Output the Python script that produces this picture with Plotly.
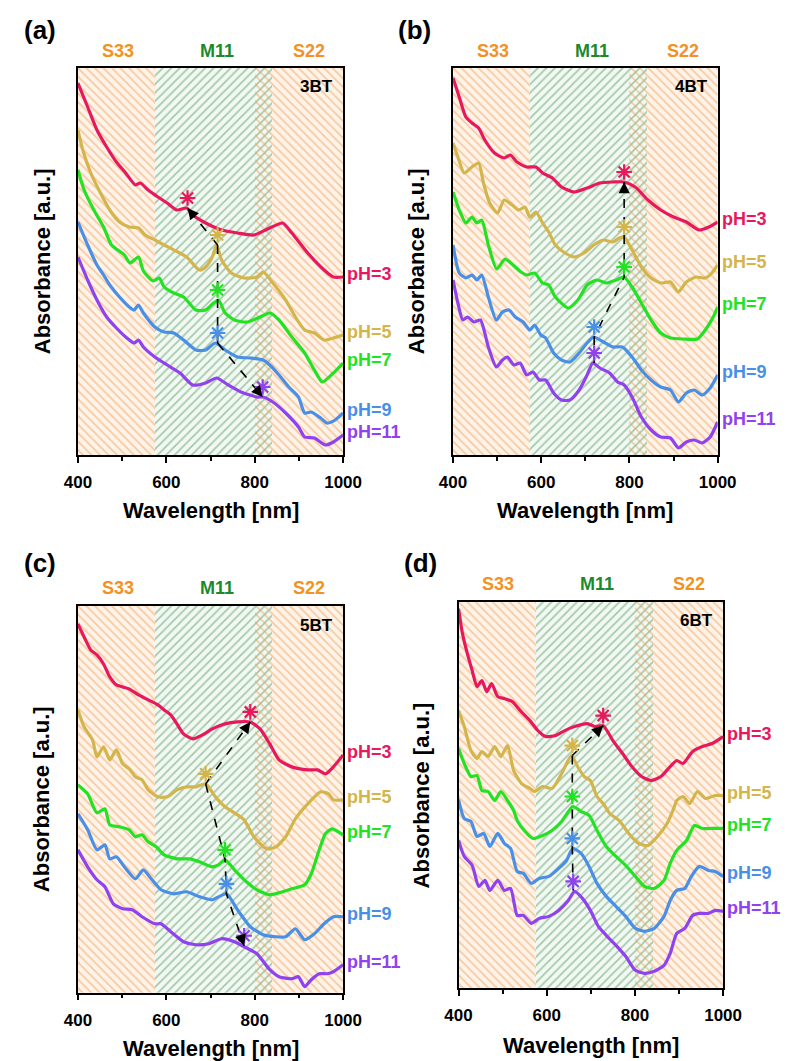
import plotly.graph_objects as go

# ---------------- data ----------------
PH_LEVELS = [3, 5, 7, 9, 11]
PH_LABELS = ["pH=3", "pH=5", "pH=7", "pH=9", "pH=11"]
SAMPLES = ["3BT", "4BT", "5BT", "6BT"]
PANEL_TAGS = ["(a)", "(b)", "(c)", "(d)"]

REGION_NAMES = ["S33", "M11", "S22"]
REGION_START = [400, 575, 800]
REGION_END = [575, 840, 1000]

X_TICKS = [400, 600, 800, 1000]

# ---- panel (a) 3BT ----
A3_WL = [400,422,443,465,487,508,530,541,559,581,602,624,646,660,689,725,761,798,834,863,884,920,957,978,1000]
A3_AB = [372,348,325,308,293,282,270,272,265,258,252,245,247,240,232,225,222,220,227,232,222,202,185,178,178]
A5_WL = [400,411,429,451,472,494,516,537,552,574,595,617,646,675,689,704,714,725,747,776,805,819,841,870,892,913,935,957,978,1000]
A5_AB = [325,305,282,262,245,233,228,227,220,215,210,205,198,185,188,198,210,195,182,177,178,183,172,155,138,125,122,115,117,120]
A7_WL = [400,414,436,458,476,505,518,537,548,570,584,595,617,639,667,689,707,718,733,754,783,812,834,855,884,913,935,953,978,1000]
A7_AB = [285,265,245,228,210,200,192,198,184,174,177,168,162,158,145,145,152,155,142,135,133,138,142,135,118,102,85,73,82,92]
A9_WL = [400,422,443,458,472,494,516,527,537,548,574,595,617,639,667,689,711,733,761,790,819,834,855,877,899,913,928,949,964,982,1000]
A9_AB = [233,210,190,180,170,158,148,145,150,142,128,123,122,115,105,105,112,105,98,97,95,90,80,68,58,42,43,37,32,35,42]
A11_WL = [400,422,443,465,487,508,527,537,548,574,602,631,660,689,714,740,769,805,819,841,870,899,913,935,960,978,1000]
A11_AB = [198,175,155,138,127,118,112,115,108,98,90,82,70,72,77,70,63,58,58,53,42,28,18,17,10,13,20]
A_PEAK_WL = [648, 716, 716, 716, 818]
A_PEAK_AB = [247, 210, 155, 112, 58]

# ---- panel (b) 4BT ----
B3_WL = [400,414,429,443,458,472,494,516,530,545,567,588,603,625,646,675,704,733,762,788,813,842,871,900,929,958,980,1000]
B3_AB = [377,358,338,332,327,315,302,297,300,293,288,288,282,277,268,263,267,272,273,273,268,255,245,238,233,225,228,233]
B5_WL = [400,411,425,443,458,469,483,501,516,534,549,563,574,588,603,617,632,654,675,697,719,741,762,777,788,806,827,849,871,893,911,929,951,972,987,1000]
B5_AB = [312,298,282,288,292,272,252,242,255,250,245,248,238,243,232,223,210,202,198,202,210,215,213,217,218,205,188,177,172,173,163,173,178,177,182,190]
B7_WL = [400,414,429,443,454,465,480,499,518,536,554,567,585,603,617,632,661,683,704,726,748,770,788,806,827,849,871,893,922,954,972,990,1000]
B7_AB = [263,245,232,238,232,235,210,186,196,190,183,180,182,172,170,158,147,155,170,175,172,175,178,168,152,135,122,117,116,116,125,138,148]
B9_WL = [400,414,429,443,454,465,480,498,512,527,541,559,574,585,599,610,628,646,665,686,704,719,741,762,784,806,827,849,871,893,911,929,947,965,983,1000]
B9_AB = [210,182,177,180,175,180,158,135,143,145,138,133,125,130,120,117,102,95,93,102,112,118,113,108,108,98,85,75,68,65,53,62,65,60,67,80]
B11_WL = [400,411,422,433,447,462,480,498,512,523,538,552,567,581,596,610,628,646,665,686,704,717,733,755,773,788,806,827,849,871,893,911,929,947,965,983,1000]
B11_AB = [175,152,135,138,133,135,108,88,95,98,90,92,80,83,75,75,62,55,55,65,80,92,87,82,73,70,58,38,25,18,17,7,13,15,12,18,33]
B_PEAK_WL = [788, 788, 788, 720, 720]
B_PEAK_AB = [273, 218, 178, 118, 92]

# ---- panel (c) 5BT ----
C3_WL = [400,414,429,443,458,472,487,501,516,537,559,581,595,610,624,639,660,682,704,733,761,790,812,834,855,884,920,942,960,978,1000]
C3_AB = [369,356,343,338,329,316,308,306,304,298,293,288,283,278,269,259,254,258,264,269,271,271,264,249,233,226,223,223,219,226,238]
C5_WL = [400,414,433,443,458,472,487,501,516,530,545,559,581,602,624,646,667,689,711,733,754,776,798,827,848,870,892,920,949,967,978,1000]
C5_AB = [283,266,253,236,246,233,243,229,224,216,213,203,196,196,203,206,206,209,196,186,180,173,156,144,146,156,174,189,201,199,193,193]
C7_WL = [400,422,443,461,472,494,516,530,545,559,577,595,624,653,675,704,718,733,754,776,805,834,863,884,913,928,946,960,975,1000]
C7_AB = [208,199,180,184,168,166,163,156,158,151,146,138,134,134,131,126,128,133,123,113,103,98,101,104,108,119,143,159,164,158]
C9_WL = [400,422,443,461,472,487,505,530,548,566,588,617,646,675,704,736,761,790,819,848,870,892,913,935,957,978,1000]
C9_AB = [179,163,143,148,134,136,126,114,123,114,103,99,101,96,93,99,83,66,58,56,56,64,53,59,69,76,76]
C11_WL = [400,422,443,461,480,501,523,545,574,588,610,639,667,696,725,754,776,805,834,855,884,899,913,928,946,964,978,1000]
C11_AB = [143,126,113,106,89,84,83,76,69,69,61,51,48,49,54,51,46,39,23,16,14,16,6,13,19,19,21,28]
C_PEAK_WL = [790, 689, 733, 736, 776]
C_PEAK_AB = [271, 209, 133, 99, 47]

# ---- panel (d) 6BT ----
D3_WL = [400,409,420,431,442,453,464,475,489,504,522,540,562,580,598,620,641,663,692,710,728,750,772,793,815,837,859,880,895,909,931,953,975,1000]
D3_AB = [380,355,335,318,302,308,297,305,292,290,287,278,268,258,252,253,258,262,265,262,263,248,235,222,212,208,212,222,228,225,237,242,245,252]
D5_WL = [400,413,428,442,453,467,482,496,511,525,543,562,572,591,612,634,656,670,685,699,714,728,743,764,786,808,830,851,873,888,895,909,924,942,960,982,1000]
D5_AB = [278,262,238,230,237,232,242,232,243,218,205,200,197,202,200,215,233,222,212,208,192,185,175,168,155,145,143,152,165,180,188,192,185,197,190,193,193]
D7_WL = [400,413,428,442,453,467,482,496,511,525,533,551,569,591,612,634,659,678,696,714,735,757,779,801,822,844,866,880,895,917,935,953,975,1000]
D7_AB = [240,225,212,213,198,197,188,197,188,178,168,157,150,153,158,167,182,177,173,158,142,132,123,112,102,100,108,125,138,148,163,160,160,160]
D9_WL = [400,413,428,442,457,471,489,504,518,533,547,565,583,605,627,645,659,678,696,714,735,757,779,801,822,844,866,880,895,913,928,946,967,982,1000]
D9_AB = [189,170,167,152,155,142,155,145,140,117,115,105,110,112,120,128,140,135,122,105,92,82,72,60,57,60,72,88,98,100,112,122,118,117,112]
D11_WL = [400,413,431,446,460,471,489,504,518,533,547,565,583,605,627,649,663,681,699,717,735,757,779,801,822,844,866,880,895,913,931,946,967,982,1000]
D11_AB = [148,132,123,102,108,98,108,98,100,73,73,65,70,72,78,88,97,90,78,62,53,43,32,18,15,17,23,35,55,60,73,75,75,78,77]
D_PEAK_WL = [728, 658, 658, 658, 660]
D_PEAK_AB = [263, 233, 182, 140, 97]

# arrow paths: sequences of peak indices (0=pH3 ... 4=pH11), with/without arrowhead
A_PATHS = [([1, 0], True), ([1, 2, 3], False), ([3, 4], True)]
B_PATHS = [([4, 3, 2, 1, 0], True)]
C_PATHS = [([1, 0], True), ([1, 2, 3, 4], True)]
D_PATHS = [([1, 0], True), ([1, 2, 3, 4], False)]

# ---------------- style ----------------
FONT = "Liberation Sans"
PH_COLORS = ["#e8185c", "#d4b54c", "#22e222", "#4a8fe6", "#8f42ee"]
ORANGE_TXT = "#f39222"
GREEN_TXT = "#1c8a2c"
REGION_LABEL_X = [490, 715, 922]
REGION_LABEL_COLORS = [ORANGE_TXT, GREEN_TXT, ORANGE_TXT]
Y_MAX = 387

panels = [
    dict(xa="x", ya="y", xdom=[0.08358, 0.43020], ydom=[0.57116, 0.93591],
         curves=[(A3_WL, A3_AB), (A5_WL, A5_AB), (A7_WL, A7_AB), (A9_WL, A9_AB), (A11_WL, A11_AB)],
         pk=(A_PEAK_WL, A_PEAK_AB), paths=A_PATHS,
         tag_xy=(27, 30), ytitle_x=30, xtitle_y=510, reg_shift=17),
    dict(xa="x2", ya="y2", xdom=[0.57393, 0.91980], ydom=[0.57116, 0.93591],
         curves=[(B3_WL, B3_AB), (B5_WL, B5_AB), (B7_WL, B7_AB), (B9_WL, B9_AB), (B11_WL, B11_AB)],
         pk=(B_PEAK_WL, B_PEAK_AB), paths=B_PATHS,
         tag_xy=(418, 30), ytitle_x=420, xtitle_y=511, reg_shift=17),
    dict(xa="x3", ya="y3", xdom=[0.08358, 0.43020], ydom=[0.06437, 0.42884],
         curves=[(C3_WL, C3_AB), (C5_WL, C5_AB), (C7_WL, C7_AB), (C9_WL, C9_AB), (C11_WL, C11_AB)],
         pk=(C_PEAK_WL, C_PEAK_AB), paths=C_PATHS,
         tag_xy=(27, 563), ytitle_x=29, xtitle_y=1048, reg_shift=18),
    dict(xa="x4", ya="y4", xdom=[0.58108, 0.92694], ydom=[0.06852, 0.43289],
         curves=[(D3_WL, D3_AB), (D5_WL, D5_AB), (D7_WL, D7_AB), (D9_WL, D9_AB), (D11_WL, D11_AB)],
         pk=(D_PEAK_WL, D_PEAK_AB), paths=D_PATHS,
         tag_xy=(424, 563), ytitle_x=425, xtitle_y=1045, reg_shift=18),
]

W, H = 798, 1061
fig = go.Figure()
annotations = []
layout_axes = {}

ORANGE_PAT = dict(shape="\\", fgcolor="#f09a50", bgcolor="#fdf3e8", size=6, solidity=0.26)
GREEN_PAT = dict(shape="/", fgcolor="#4f955c", bgcolor="#f2f8f2", size=6, solidity=0.26)
ORANGE_PAT_T = dict(shape="\\", fgcolor="#f09a50", bgcolor="rgba(0,0,0,0)", size=6, solidity=0.26)

for i, p in enumerate(panels):
    xa, ya = p["xa"], p["ya"]
    s, e = REGION_START, REGION_END
    bars = [
        (s[0], e[0], ORANGE_PAT),
        (s[2], e[2], ORANGE_PAT),
        (s[1], e[1], GREEN_PAT),
        (s[2], e[1], ORANGE_PAT_T),
    ]
    for b0, b1, pat in bars:
        fig.add_trace(go.Bar(x=[(b0 + b1) / 2], y=[Y_MAX], width=[b1 - b0], base=0,
                             marker=dict(color="rgba(0,0,0,0)", line=dict(width=0), pattern=pat),
                             xaxis=xa, yaxis=ya, hoverinfo="skip", showlegend=False))
    for k, (wl, ab) in enumerate(p["curves"]):
        fig.add_trace(go.Scatter(x=wl, y=ab, mode="lines",
                                 line=dict(color=PH_COLORS[k], width=3.2, shape="spline", smoothing=0.6),
                                 xaxis=xa, yaxis=ya, showlegend=False, name=PH_LABELS[k]))
        annotations.append(dict(x=1000, y=ab[-1] + 3, xref=xa, yref=ya, text=PH_LABELS[k],
                                showarrow=False, xanchor="left", yanchor="middle", xshift=2,
                                font=dict(family=FONT, size=18, color=PH_COLORS[k], weight="bold")))
    pwl, pab = p["pk"]
    px_nm = (p["xdom"][1] - p["xdom"][0]) * W / 600.0
    px_ab = (p["ydom"][1] - p["ydom"][0]) * H / Y_MAX
    for idxs, head in p["paths"]:
        fig.add_trace(go.Scatter(x=[pwl[j] for j in idxs], y=[pab[j] for j in idxs], mode="lines",
                                 line=dict(color="black", width=1.6, dash="dash"),
                                 xaxis=xa, yaxis=ya, showlegend=False, hoverinfo="skip"))
        if head:
            x0, y0 = pwl[idxs[-2]], pab[idxs[-2]]
            x1, y1 = pwl[idxs[-1]], pab[idxs[-1]]
            dx, dy = (x1 - x0) * px_nm, (y1 - y0) * px_ab
            L = (dx * dx + dy * dy) ** 0.5
            back = 7.0
            annotations.append(dict(x=x1, y=y1, ax=x1 - (x1 - x0) * back / L, ay=y1 - (y1 - y0) * back / L,
                                    xref=xa, yref=ya, axref=xa, ayref=ya, text="", showarrow=True,
                                    arrowhead=2, arrowsize=1.4, arrowwidth=1.6, arrowcolor="black",
                                    standoff=0, startstandoff=0))
    fig.add_trace(go.Scatter(x=pwl, y=[v + 10 for v in pab], mode="markers",
                             marker=dict(symbol="asterisk-open", size=13, color=PH_COLORS,
                                         line=dict(color=PH_COLORS, width=2.2)),
                             xaxis=xa, yaxis=ya, showlegend=False, hoverinfo="skip"))
    for r, name in enumerate(REGION_NAMES):
        annotations.append(dict(x=REGION_LABEL_X[r], y=1, xref=xa, yref=ya + " domain", text=name,
                                showarrow=False, yanchor="middle", yshift=p["reg_shift"],
                                font=dict(family=FONT, size=18, color=REGION_LABEL_COLORS[r], weight="bold")))
    annotations.append(dict(x=1, y=1, xref=xa + " domain", yref=ya + " domain", text=SAMPLES[i],
                            showarrow=False, xanchor="right", yanchor="middle", xshift=-8, yshift=-19,
                            font=dict(family=FONT, size=17, color="black", weight="bold")))
    annotations.append(dict(x=p["tag_xy"][0] / W, y=1 - p["tag_xy"][1] / H, xref="paper", yref="paper",
                            text=PANEL_TAGS[i], showarrow=False, xanchor="center", yanchor="middle",
                            font=dict(family=FONT, size=26, color="black", weight="bold")))
    annotations.append(dict(x=p["ytitle_x"] / W, y=(p["ydom"][0] + p["ydom"][1]) / 2, xref="paper", yref="paper",
                            text="Absorbance [a.u.]", textangle=-90, showarrow=False,
                            xanchor="center", yanchor="middle",
                            font=dict(family=FONT, size=22, color="black", weight="bold")))
    annotations.append(dict(x=(p["xdom"][0] + p["xdom"][1]) / 2, y=1 - p["xtitle_y"] / H, xref="paper", yref="paper",
                            text="Wavelength [nm]", showarrow=False, xanchor="center", yanchor="middle",
                            font=dict(family=FONT, size=22, color="black", weight="bold")))

    sfx = "" if i == 0 else str(i + 1)
    layout_axes["xaxis" + sfx] = dict(
        domain=p["xdom"], anchor=ya, range=[400, 1000], tickmode="array", tickvals=X_TICKS,
        ticktext=[str(t) for t in X_TICKS], ticks="outside", ticklen=6, tickwidth=1.5, tickcolor="black",
        minor=dict(tickmode="array", tickvals=[500, 700, 900], ticks="outside", ticklen=4, tickwidth=1.5, tickcolor="black"),
        showline=True, linecolor="black", linewidth=1.5, mirror=True, showgrid=False, zeroline=False,
        ticklabelstandoff=5,
        tickfont=dict(family=FONT, size=17, color="black", weight="bold"))
    layout_axes["yaxis" + sfx] = dict(
        domain=p["ydom"], anchor=xa, range=[0, Y_MAX], showticklabels=False, ticks="",
        showline=True, linecolor="black", linewidth=1.5, mirror=True, showgrid=False, zeroline=False)

fig.update_layout(width=W, height=H, margin=dict(l=0, r=0, t=0, b=0), autosize=False,
                  paper_bgcolor="white", plot_bgcolor="white", barmode="overlay", bargap=0,
                  showlegend=False, annotations=annotations, **layout_axes)

fig.write_html("out.html", config={"responsive": False})
